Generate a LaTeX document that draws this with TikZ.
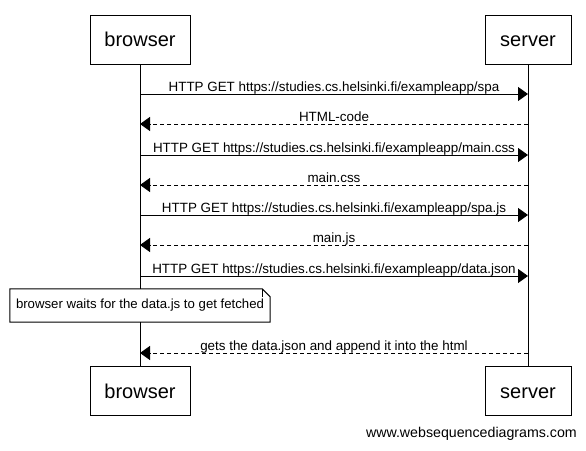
\documentclass[tikz,border=0pt]{standalone}
\usepackage{fontspec}
\setmainfont{Liberation Sans}
\usetikzlibrary{arrows.meta}
\tikzset{
actor/.style={rectangle,draw=black,line width=1pt,minimum height=49pt,text height=14.4pt,text depth=0pt,font=\fontsize{20}{24}\selectfont},
msg/.style={line width=1pt,-{Triangle[length=10pt,width=14pt]}},
reply/.style={msg,dash pattern=on 4pt off 3pt},
lbl/.style={anchor=base,yshift=3pt,inner sep=0pt,font=\fontsize{13.4}{15}\selectfont},
note/.style={rectangle,fill=white,inner sep=0pt,minimum width=260pt,minimum height=33pt,font=\fontsize{13.2}{15}\selectfont}
}
\begin{document}
\begin{tikzpicture}[x=1pt,y=-1pt]
\path[use as bounding box,fill=white] (0,0) rectangle (586,450);
\node[actor,minimum width=100pt] (B) at(140,39.5) {browser};
\node[actor,minimum width=86pt] (S) at(528,39.5) {server};
\node[actor,minimum width=100pt] (Bb) at(140,391) {browser};
\node[actor,minimum width=86pt] (Sb) at(528,391) {server};
\draw[line width=1pt] (B) -- (Bb);
\draw[line width=1pt] (S) -- (Sb);
\coordinate (b1) at(140,94);  \coordinate (s1) at(528,94);
\coordinate (b2) at(140,124); \coordinate (s2) at(528,124);
\coordinate (b3) at(140,155); \coordinate (s3) at(528,155);
\coordinate (b4) at(140,185); \coordinate (s4) at(528,185);
\coordinate (b5) at(140,215); \coordinate (s5) at(528,215);
\coordinate (b6) at(140,245); \coordinate (s6) at(528,245);
\coordinate (b7) at(140,276); \coordinate (s7) at(528,276);
\coordinate (b8) at(140,353); \coordinate (s8) at(528,353);
\draw[msg] (b1) -- node[lbl]{HTTP GET https://studies.cs.helsinki.fi/exampleapp/spa}(s1);
\draw[reply] (s2) -- node[lbl]{HTML-code}(b2);
\draw[msg] (b3) -- node[lbl]{HTTP GET https://studies.cs.helsinki.fi/exampleapp/main.css}(s3);
\draw[reply] (s4) -- node[lbl]{main.css}(b4);
\draw[msg] (b5) -- node[lbl]{HTTP GET https://studies.cs.helsinki.fi/exampleapp/spa.js}(s5);
\draw[reply] (s6) -- node[lbl]{main.js}(b6);
\draw[msg] (b7) -- node[lbl]{HTTP GET https://studies.cs.helsinki.fi/exampleapp/data.json}(s7);
\node[note] (wait) at(140,305.5) {browser waits for the data.js to get fetched};
\draw[line width=1pt] (wait.south west) -- (wait.north west) -- ([xshift=-8pt]wait.north east) -- ([yshift=-8pt]wait.north east) -- (wait.south east) -- cycle;
\draw[line width=1pt] ([xshift=-8pt]wait.north east) -- ([xshift=-8pt,yshift=-8pt]wait.north east);
\draw[reply] (s8) -- node[lbl]{gets the data.json and append it into the html}(b8);
\node[anchor=base east,inner sep=0pt,font=\fontsize{14.2}{16}\selectfont] (wsd) at(577,437) {www.websequencediagrams.com};
\end{tikzpicture}
\end{document}
